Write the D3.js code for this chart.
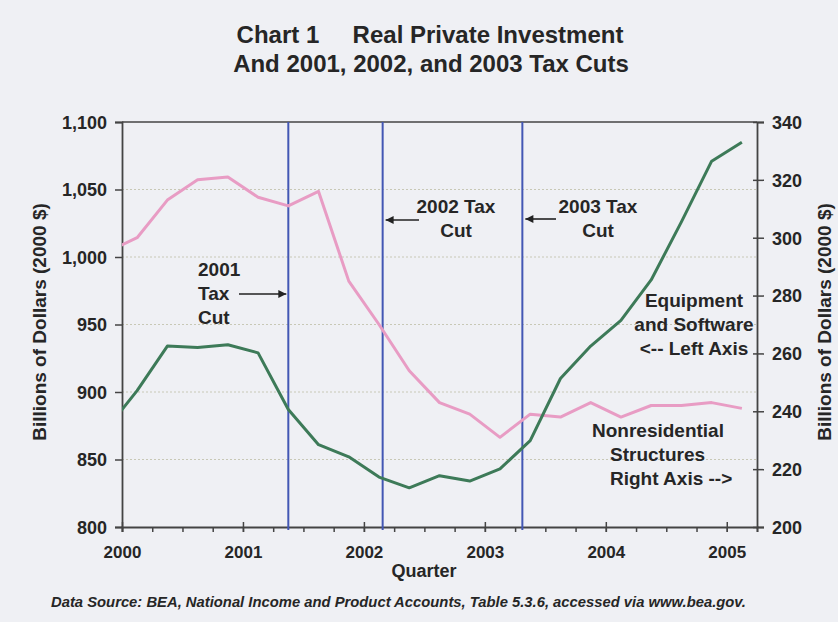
<!DOCTYPE html>
<html>
<head>
<meta charset="utf-8">
<script src="https://cdn.jsdelivr.net/npm/d3@7/dist/d3.min.js"></script>
<style>
  html, body { margin: 0; padding: 0; background: #eff0f4; }
  svg { display: block; font-family: "Liberation Sans", Arial, sans-serif; }
  text { fill: #262626; font-weight: bold; }
</style>
</head>
<body>
<svg id="chart" width="838" height="622"></svg>
<script>
// Quarterly series, billions of chained 2000 dollars
const quarters = ["1999Q4",
  "2000Q1","2000Q2","2000Q3","2000Q4",
  "2001Q1","2001Q2","2001Q3","2001Q4",
  "2002Q1","2002Q2","2002Q3","2002Q4",
  "2003Q1","2003Q2","2003Q3","2003Q4",
  "2004Q1","2004Q2","2004Q3","2004Q4",
  "2005Q1"];
const equipmentSoftware = [873, 901, 934, 933, 935, 929, 887, 861, 852, 837, 829, 838,
  834, 843, 864, 910, 934, 953, 983, 1026, 1071, 1085];
const nonresStructures = [295, 300, 313, 320, 321, 314, 311, 316, 285, 270, 254, 243,
  239, 231, 239, 238, 243, 238, 242, 242, 243, 241];

// Tax-cut enactment dates as decimal years
const taxCuts = [2001.375, 2002.155, 2003.31];

const leftTicks = [800, 850, 900, 950, 1000, 1050, 1100];
const rightTicks = [200, 220, 240, 260, 280, 300, 320, 340];
const yearTicks = [2000, 2001, 2002, 2003, 2004, 2005];

const svg = d3.select("#chart");
const M = { left: 122, right: 757, top: 122, bottom: 527 };

// quarter label -> middle of the quarter in decimal years
const qPos = q => +q.slice(0, 4) + (+q.slice(5) - 1) * 0.25 + 0.125;

const x = d3.scaleLinear().domain([2000, 2005.25]).range([M.left, M.right]);
const yL = d3.scaleLinear().domain([800, 1100]).range([M.bottom, M.top]);
const yR = d3.scaleLinear().domain([200, 340]).range([M.bottom, M.top]);

svg.append("defs").append("clipPath").attr("id", "plot")
  .append("rect").attr("x", M.left).attr("y", M.top)
  .attr("width", M.right - M.left).attr("height", M.bottom - M.top);

svg.select("defs").append("marker")
  .attr("id", "head").attr("viewBox", "0 0 10 10")
  .attr("refX", 10).attr("refY", 5)
  .attr("markerWidth", 10).attr("markerHeight", 8)
  .attr("markerUnits", "userSpaceOnUse")
  .attr("orient", "auto")
  .append("path").attr("d", "M0,0 L10,5 L0,10 Z").attr("fill", "#222");

// Title
svg.append("text").attr("x", 430).attr("y", 43).attr("text-anchor", "middle")
  .style("font-size", "24px").style("white-space", "pre")
  .text("Chart 1     Real Private Investment");
svg.append("text").attr("x", 431).attr("y", 72).attr("text-anchor", "middle")
  .style("font-size", "24px")
  .text("And 2001, 2002, and 2003 Tax Cuts");

// Horizontal gridlines off the left axis
svg.append("g").selectAll("line")
  .data(leftTicks.filter(d => d > 800 && d < 1100))
  .join("line")
  .attr("x1", M.left).attr("x2", M.right)
  .attr("y1", d => yL(d)).attr("y2", d => yL(d))
  .attr("stroke", "#c8c8b6").attr("stroke-width", 1)
  .attr("stroke-dasharray", "2,2");

// Frame top
svg.append("line").attr("x1", M.left).attr("x2", M.right)
  .attr("y1", M.top).attr("y2", M.top)
  .attr("stroke", "#444").attr("stroke-width", 1.5);

// Axes
const axisStyle = g => {
  g.select(".domain").attr("stroke", "#444").attr("stroke-width", 1.8);
  g.selectAll(".tick line").attr("stroke", "#444").attr("stroke-width", 1.5);
  g.selectAll(".tick text").attr("fill", "#262626").style("font-weight", "bold")
    .style("font-family", "'Liberation Sans', Arial, sans-serif");
};

svg.append("g").attr("transform", `translate(${M.left},0)`)
  .call(d3.axisLeft(yL).tickValues(leftTicks).tickFormat(d3.format(","))
    .tickSizeOuter(0).tickSize(7).tickPadding(8))
  .call(axisStyle)
  .call(g => g.selectAll(".tick text").style("font-size", "18px").attr("dy", "0.35em"));

svg.append("g").attr("transform", `translate(${M.right},0)`)
  .call(d3.axisRight(yR).tickValues(rightTicks).tickSizeOuter(0)
    .tickSize(7).tickPadding(8))
  .call(axisStyle)
  .call(g => g.selectAll(".tick line").attr("x1", -4))
  .call(g => g.selectAll(".tick text").style("font-size", "18px").attr("dy", "0.35em"));

// Quarter minor ticks, then year ticks with labels
svg.append("g").attr("transform", `translate(0,${M.bottom})`)
  .call(d3.axisBottom(x).tickValues(d3.range(0, 22).map(i => 2000 + i * 0.25))
    .tickFormat("").tickSizeOuter(0).tickSize(5))
  .call(axisStyle);

svg.append("g").attr("transform", `translate(0,${M.bottom})`)
  .call(d3.axisBottom(x).tickValues(yearTicks).tickFormat(d3.format("d"))
    .tickSizeOuter(0).tickSize(5).tickPadding(14))
  .call(axisStyle)
  .call(g => g.select(".domain").remove())
  .call(g => g.selectAll(".tick line").attr("y1", -5))
  .call(g => g.selectAll(".tick text").style("font-size", "17px"));

// Axis titles
svg.append("text").attr("x", 424).attr("y", 577).attr("text-anchor", "middle")
  .style("font-size", "18px").text("Quarter");
svg.append("text").attr("transform", "translate(46,322) rotate(-90)")
  .attr("text-anchor", "middle").style("font-size", "19px")
  .text("Billions of Dollars (2000 $)");
svg.append("text").attr("transform", "translate(831,322) rotate(-90)")
  .attr("text-anchor", "middle").style("font-size", "19px")
  .text("Billions of Dollars (2000 $)");

// Tax-cut markers
svg.append("g").selectAll("line").data(taxCuts).join("line")
  .attr("x1", d => x(d)).attr("x2", d => x(d))
  .attr("y1", M.top).attr("y2", M.bottom + 3)
  .attr("stroke", "#4357b4").attr("stroke-width", 2);

// Series lines
const plot = svg.append("g").attr("clip-path", "url(#plot)");
plot.append("path")
  .datum(quarters.map((q, i) => [qPos(q), nonresStructures[i]]))
  .attr("fill", "none").attr("stroke", "#e89cc4").attr("stroke-width", 3)
  .attr("stroke-linejoin", "round")
  .attr("d", d3.line().x(d => x(d[0])).y(d => yR(d[1])));
plot.append("path")
  .datum(quarters.map((q, i) => [qPos(q), equipmentSoftware[i]]))
  .attr("fill", "none").attr("stroke", "#3d7a58").attr("stroke-width", 3)
  .attr("stroke-linejoin", "round")
  .attr("d", d3.line().x(d => x(d[0])).y(d => yL(d[1])));

// Annotations
const note = (lines, xp, y0, anchor) => {
  const t = svg.append("text").attr("text-anchor", anchor || "middle")
    .style("font-size", "19px").style("white-space", "pre");
  lines.forEach((s, i) => {
    const px = Array.isArray(xp) ? xp[i] : xp;
    t.append("tspan").attr("x", px).attr("y", y0 + i * 24).text(s);
  });
};
const arrow = (x1, x2, y) => svg.append("line")
  .attr("x1", x1).attr("x2", x2).attr("y1", y).attr("y2", y)
  .attr("stroke", "#222").attr("stroke-width", 1.6)
  .attr("marker-end", "url(#head)");

note(["2001", "Tax", "Cut"], 198, 276, "start");
arrow(239, x(taxCuts[0]) - 2, 294);

note(["2002 Tax", "Cut"], 456, 213);
arrow(419, x(taxCuts[1]) + 3, 220);

note(["2003 Tax", "Cut"], 598, 213);
arrow(556, x(taxCuts[2]) + 3, 219);

note(["Equipment", "and Software", "<-- Left Axis"], 694, 307);
note(["Nonresidential", "Structures", "Right Axis -->"], [592, 610, 610], 437, "start");

// Source line
svg.append("text").attr("x", 51).attr("y", 607)
  .style("font-size", "14.8px").style("font-style", "italic")
  .text("Data Source: BEA, National Income and Product Accounts, Table 5.3.6, accessed via www.bea.gov.");
</script>
</body>
</html>
